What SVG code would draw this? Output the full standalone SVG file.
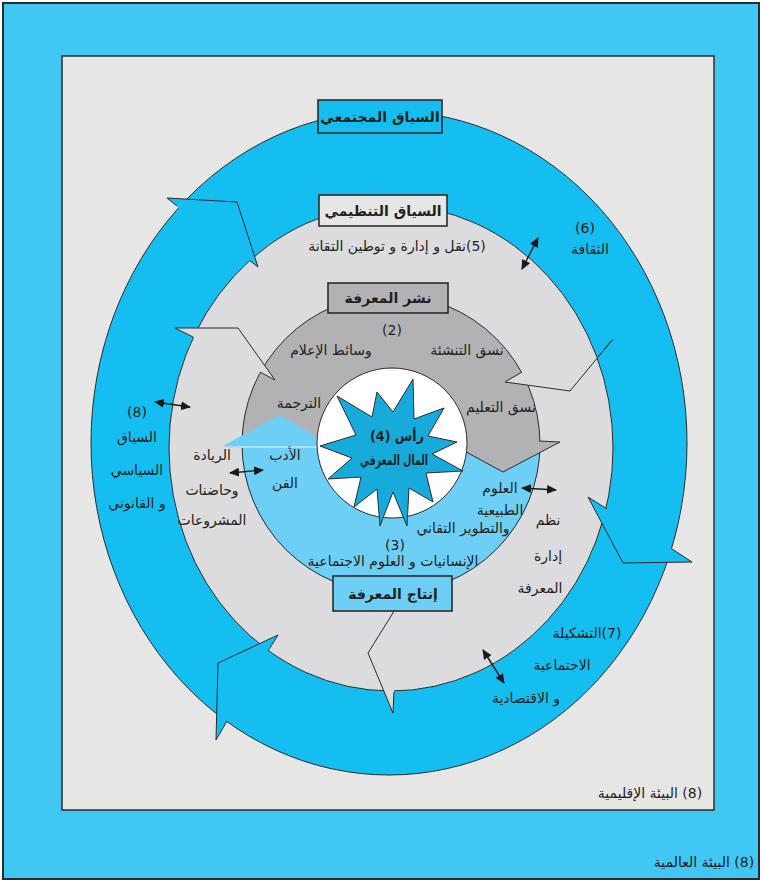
<svg xmlns="http://www.w3.org/2000/svg" width="762" height="882" viewBox="0 0 762 882">
  <style>
    .t { font-family: "DejaVu Sans", "Noto Sans", sans-serif; fill: #231f20; text-anchor: middle; direction: rtl; unicode-bidi: embed; font-size: 14px; }
    .b { font-weight: bold; }
    .box { stroke: #2b2b2b; stroke-width: 1.6; }
    .edge { stroke: #2b2b2b; stroke-width: 1; }
    .ah { stroke: #2b2b2b; stroke-width: 1; stroke-linejoin: miter; }
    .dbl { stroke: #1a1a1a; stroke-width: 1.4; fill: none; marker-start: url(#head); marker-end: url(#head); }
  </style>
  <defs>
    <marker id="head" viewBox="0 0 10 9" refX="9" refY="4.5" markerWidth="10" markerHeight="9" markerUnits="userSpaceOnUse" orient="auto-start-reverse">
      <path d="M0,0 L10,4.5 L0,9 z" fill="#1a1a1a"/>
    </marker>
  </defs>

  <!-- global environment frame -->
  <g id="global-env">
    <rect x="3" y="3" width="756" height="876" fill="#40c7f4" stroke="#2b2b2b" stroke-width="2"/>
  </g>
  <!-- regional environment -->
  <g id="regional-env">
    <rect x="62" y="56" width="652" height="754" fill="#e6e6e6" stroke="#2b2b2b" stroke-width="1.5"/>
  </g>

  <!-- societal context ring -->
  <g id="societal-ring">
    <ellipse cx="389" cy="443" rx="298" ry="332" fill="#15bef0" class="edge"/>
  </g>
  <!-- organisational context ring -->
  <g id="organisational-ring">
    <ellipse cx="391" cy="448" rx="222" ry="243" fill="#dcdcde" class="edge"/>
  </g>
  <!-- knowledge dissemination / production ring -->
  <g id="knowledge-ring">
    <circle cx="391" cy="444" r="149" fill="#b2b2b5"/>
    <path d="M242,447 A149,149 0 0 0 540,442 Z" fill="#6dcff6"/>
    <circle cx="391" cy="444" r="149" fill="none" class="edge"/>
  </g>

  <!-- ring arrowheads (clockwise flow) -->
  <g id="ring-arrowheads">
    <path class="ah" fill="#15bef0" d="M177,206 L167,198 L237,202 L258,267 L249,260"/>
    <path class="ah" fill="#15bef0" d="M607,509 L588,497 L623,563 L692,562 L672,549"/>
    <path class="ah" fill="#15bef0" d="M268,651 L278,635 L218,663 L216,740 L227,721"/>
    <path class="ah" fill="#dcdcde" d="M193,337 L175,328 L238,328 L275,380 L260,372"/>
    <path class="ah" fill="#dcdcde" d="M598,357 L613,339 L570,391 L505,382 L522,372"/>
    <path class="ah" fill="#dcdcde" d="M394,692 L393,713 L368,653 L401,600 L398,600"/>
    <path class="ah" fill="#b2b2b5" d="M539,441 L560,442 L503,472 L446,441 L452,441"/>
    <path fill="#6dcff6" d="M223,446 L280,415 L333,447 Z"/>
    <line x1="225" y1="447" x2="318" y2="447" stroke="#a9e2f8" stroke-width="2"/>
  </g>

  <!-- knowledge capital core -->
  <g id="knowledge-capital">
    <circle cx="392" cy="443" r="75" fill="#ffffff" class="edge"/>
    <polygon fill="#17abdc" stroke="#2b2b2b" stroke-width="1" points="337,396 372,417 377,392 393,412 413,379 414,419 444,408 428,436 457,442 432,454 463,471 426,473 433,502 409,488 407,526 393,492 380,526 377,489 354,507 361,477 328,479 352,458 320,446 356,435"/>
    <text class="t b" x="397" y="441" font-size="16" textLength="54" lengthAdjust="spacingAndGlyphs">رأس (4)</text>
    <text class="t b" x="394" y="465" font-size="16" textLength="68" lengthAdjust="spacingAndGlyphs">المال المعرفي</text>
  </g>

  <!-- interaction arrows between layers -->
  <g id="connectors">
    <line class="dbl" x1="538" y1="238" x2="522" y2="269"/>
    <line class="dbl" x1="155" y1="402" x2="190" y2="407"/>
    <line class="dbl" x1="230" y1="473" x2="263" y2="470"/>
    <line class="dbl" x1="522" y1="488" x2="556" y2="490"/>
    <line class="dbl" x1="483" y1="650" x2="504" y2="683"/>
  </g>

  <!-- context labels -->
  <g id="label-societal">
    <rect class="box" x="318" y="100" width="124" height="33" fill="#15bef0"/>
    <text class="t b" x="380" y="122" font-size="15">السياق المجتمعي</text>
  </g>
  <g id="label-organisational">
    <rect class="box" x="319" y="195" width="128" height="31" fill="#e6e6e6"/>
    <text class="t b" x="383" y="216" font-size="15">السياق التنظيمي</text>
  </g>
  <g id="label-dissemination">
    <rect class="box" x="328" y="283" width="120" height="30" fill="#b2b2b5"/>
    <text class="t b" x="388" y="303" font-size="15">نشر المعرفة</text>
  </g>
  <g id="label-production">
    <rect class="box" x="333" y="576" width="119" height="35" fill="#6dcff6"/>
    <text class="t b" x="393" y="599" font-size="15">إنتاج المعرفة</text>
  </g>

  <!-- ring annotations -->
  <g id="notes-organisational">
    <text class="t" x="397" y="251">(5)نقل و إدارة و توطين التقانة</text>
    <text class="t" x="212" y="460">الريادة</text>
    <text class="t" x="212" y="495">وحاضنات</text>
    <text class="t" x="212" y="525">المشروعات</text>
    <text class="t" x="548" y="525">نظم</text>
    <text class="t" x="548" y="561">إدارة</text>
    <text class="t" x="540" y="593">المعرفة</text>
  </g>
  <g id="notes-dissemination">
    <text class="t" x="392" y="335" font-size="15">(2)</text>
    <text class="t" x="331" y="355" font-size="15">وسائط الإعلام</text>
    <text class="t" x="467" y="355">نسق التنشئة</text>
    <text class="t" x="299" y="408">الترجمة</text>
    <text class="t" x="501" y="412">نسق التعليم</text>
  </g>
  <g id="notes-production">
    <text class="t" x="285" y="460">الأدب</text>
    <text class="t" x="285" y="488">الفن</text>
    <text class="t" x="500" y="493">العلوم</text>
    <text class="t" x="500" y="515">الطبيعية</text>
    <text class="t" x="463" y="533" font-size="15">والتطوير التقاني</text>
    <text class="t" x="395" y="550" font-size="15">(3)</text>
    <text class="t" x="393" y="566" font-size="15">الإنسانيات و العلوم الاجتماعية</text>
  </g>
  <g id="notes-societal">
    <text class="t" x="585" y="233" font-size="16">(6)</text>
    <text class="t" x="590" y="254" font-size="15">الثقافة</text>
    <text class="t" x="137" y="417" font-size="16">(8)</text>
    <text class="t" x="137" y="442" font-size="16">السياق</text>
    <text class="t" x="137" y="475" font-size="16">السياسي</text>
    <text class="t" x="137" y="508" font-size="16">و القانوني</text>
    <text class="t" x="587" y="638" font-size="16">(7)التشكيلة</text>
    <text class="t" x="562" y="670" font-size="16">الاجتماعية</text>
    <text class="t" x="526" y="703" font-size="16">و الاقتصادية</text>
  </g>
  <g id="notes-environment">
    <text class="t" x="650" y="798" font-size="15">(8) البيئة الإقليمية</text>
    <text class="t" x="704" y="867" font-size="14.5">(8) البيئة العالمية</text>
  </g>
</svg>
